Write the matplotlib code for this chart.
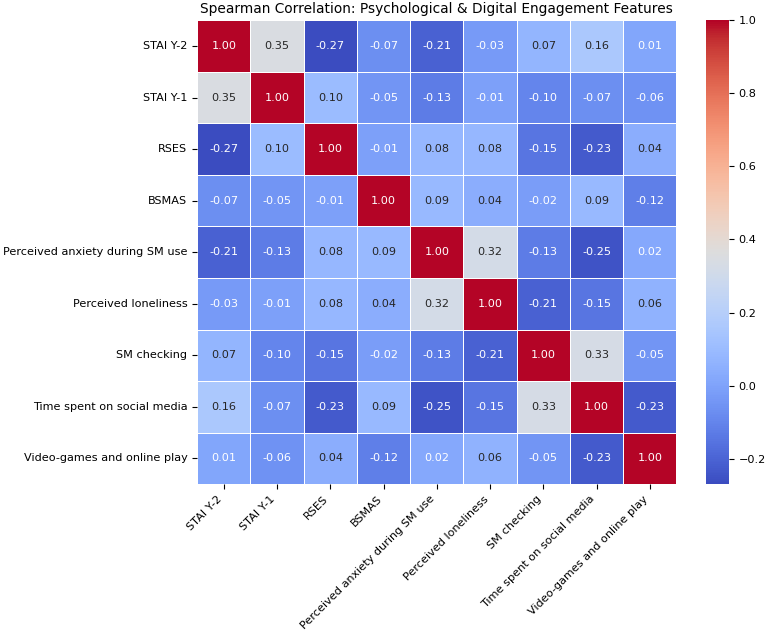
import matplotlib
matplotlib.use("Agg")

import matplotlib.pyplot as plt
import numpy as np
import pandas as pd
import seaborn as sns

labels = [
    "STAI Y-2",
    "STAI Y-1",
    "RSES",
    "BSMAS",
    "Perceived anxiety during SM use",
    "Perceived loneliness",
    "SM checking",
    "Time spent on social media",
    "Video-games and online play",
]

corr_values = [
    [1.00, 0.35, -0.27, -0.07, -0.21, -0.03, 0.07, 0.16, 0.01],
    [0.35, 1.00, 0.10, -0.05, -0.13, -0.01, -0.10, -0.07, -0.06],
    [-0.27, 0.10, 1.00, -0.01, 0.08, 0.08, -0.15, -0.23, 0.04],
    [-0.07, -0.05, -0.01, 1.00, 0.09, 0.04, -0.02, 0.09, -0.12],
    [-0.21, -0.13, 0.08, 0.09, 1.00, 0.32, -0.13, -0.25, 0.02],
    [-0.03, -0.01, 0.08, 0.04, 0.32, 1.00, -0.21, -0.15, 0.06],
    [0.07, -0.10, -0.15, -0.02, -0.13, -0.21, 1.00, 0.33, -0.05],
    [0.16, -0.07, -0.23, 0.09, -0.25, -0.15, 0.33, 1.00, -0.23],
    [0.01, -0.06, 0.04, -0.12, 0.02, 0.06, -0.05, -0.23, 1.00],
]

corr = pd.DataFrame(np.array(corr_values), index=labels, columns=labels)

fig = plt.figure(figsize=(7.67, 6.33), dpi=100)
ax = fig.add_axes([0.257, 0.235, 0.625, 0.733])
cax = fig.add_axes([0.921, 0.235, 0.029, 0.733])

sns.heatmap(
    corr,
    ax=ax,
    cbar_ax=cax,
    cmap="coolwarm",
    annot=True,
    fmt=".2f",
    linewidths=0.5,
    linecolor="white",
    annot_kws={"size": 8.1},
)

ax.set_title("Spearman Correlation: Psychological & Digital Engagement Features",
             fontsize=9.9, pad=5)
ax.set_xticklabels(labels, rotation=45, ha="right", fontsize=8.1)
ax.set_yticklabels(labels, rotation=0, fontsize=8.1)
cax.tick_params(labelsize=8.1)

fig.savefig("out.png", dpi=100)
